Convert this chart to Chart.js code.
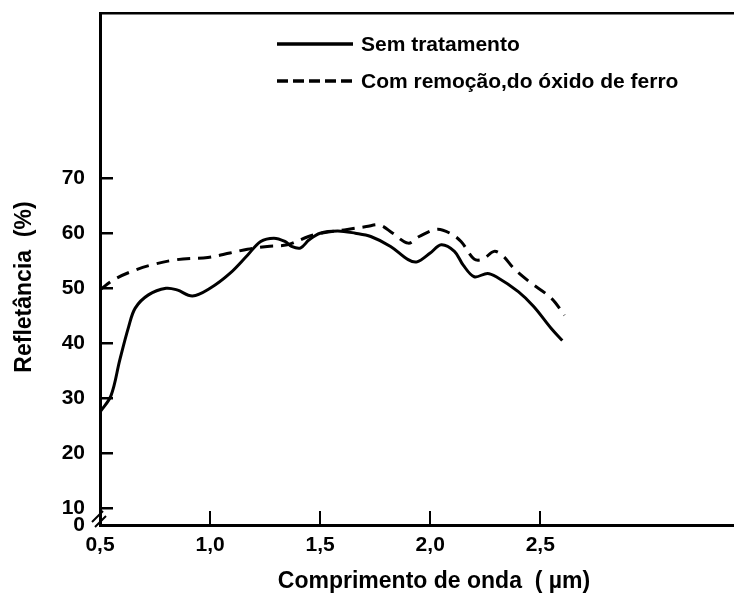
<!DOCTYPE html>
<html>
<head>
<meta charset="utf-8">
<script src="https://cdn.jsdelivr.net/npm/chart.js@4"></script>
<style>
  html, body { margin: 0; padding: 0; background: #fff; }
  canvas { display: block; }
</style>
</head>
<body>
<canvas id="chart" width="734" height="599"></canvas>
<script>
// Sem tratamento (solid)
const waveSem = [0.50, 0.55, 0.59, 0.63, 0.66, 0.72, 0.80, 0.85, 0.92, 1.00, 1.09, 1.17, 1.23, 1.29, 1.34, 1.37, 1.41, 1.45, 1.50, 1.58, 1.66, 1.73, 1.82, 1.90, 1.94, 2.00, 2.05, 2.11, 2.15, 2.20, 2.26, 2.30, 2.40, 2.47, 2.55, 2.60];
const reflSem = [27.5, 30.5, 37.0, 43.0, 46.4, 48.8, 50.0, 49.7, 48.6, 50.0, 52.7, 56.0, 58.5, 59.1, 58.5, 57.6, 57.3, 58.8, 60.0, 60.4, 60.0, 59.4, 57.6, 55.2, 54.8, 56.4, 57.9, 56.7, 54.2, 52.1, 52.7, 52.1, 49.4, 46.7, 42.7, 40.5];

// Com remoção do óxido de ferro (dashed)
const waveCom = [0.50, 0.56, 0.64, 0.73, 0.85, 0.99, 1.09, 1.17, 1.26, 1.35, 1.47, 1.61, 1.71, 1.77, 1.83, 1.90, 1.95, 2.03, 2.09, 2.14, 2.20, 2.24, 2.29, 2.33, 2.38, 2.45, 2.55, 2.61];
const reflCom = [49.7, 51.5, 53.0, 54.2, 55.2, 55.6, 56.4, 57.1, 57.6, 57.9, 59.7, 60.6, 61.2, 61.5, 60.0, 58.2, 59.4, 60.7, 60.0, 58.5, 55.3, 55.3, 56.7, 55.9, 53.6, 51.2, 48.2, 45.1];

const seriesLabels = ['Sem tratamento', 'Com remoção,do óxido de ferro'];
const xTicks = [0.5, 1.0, 1.5, 2.0, 2.5];
const yTicks = [10, 20, 30, 40, 50, 60, 70];
const yBreak = 7; // broken axis: bottom of the scale is labelled 0
const xTitle = 'Comprimento de onda  ( µm)';
const yTitle = 'Refletância  (%)';

const fontFamily = '"Liberation Sans", Arial, sans-serif';
const tickFont = { family: fontFamily, weight: 'bold', size: 21 };

const toPoints = (xs, ys) => xs.map((x, i) => ({ x: x, y: ys[i] }));

// titles, legend and the axis break drawn on top
const extras = {
  id: 'extras',
  afterDraw(chart) {
    const { ctx, chartArea: a } = chart;
    ctx.save();
    ctx.fillStyle = '#000';
    ctx.strokeStyle = '#000';
    ctx.textBaseline = 'middle';

    // axis titles
    ctx.font = 'bold 23px ' + fontFamily;
    ctx.textAlign = 'center';
    ctx.fillText(xTitle, a.left + 334, a.bottom + 57);

    ctx.save();
    ctx.translate(25, a.bottom - 238);
    ctx.rotate(-Math.PI / 2);
    ctx.fillText(yTitle, 0, 0);
    ctx.restore();

    // legend
    ctx.font = 'bold 21px ' + fontFamily;
    ctx.textAlign = 'left';
    chart.data.datasets.forEach((ds, i) => {
      const y = a.top + 31 + i * 37;
      ctx.lineWidth = 3.5;
      ctx.setLineDash(i === 0 ? [] : [11, 5]);
      ctx.beginPath();
      ctx.moveTo(a.left + 177, y);
      ctx.lineTo(a.left + 253, y);
      ctx.stroke();
      ctx.setLineDash([]);
      ctx.fillText(ds.label, a.left + 261, y + 1);
    });

    // axis break marks
    ctx.lineWidth = 2;
    ctx.beginPath();
    ctx.moveTo(a.left - 8, a.bottom - 3);
    ctx.lineTo(a.left + 3, a.bottom - 14);
    ctx.moveTo(a.left - 5, a.bottom + 2);
    ctx.lineTo(a.left + 6, a.bottom - 9);
    ctx.stroke();
    ctx.restore();
  }
};

new Chart(document.getElementById('chart'), {
  type: 'line',
  data: {
    datasets: [
      {
        label: seriesLabels[0],
        data: toPoints(waveSem, reflSem),
        borderColor: '#000',
        borderWidth: 3,
        pointRadius: 0,
        tension: 0.35,
        fill: false
      },
      {
        label: seriesLabels[1],
        data: toPoints(waveCom, reflCom),
        borderColor: '#000',
        borderWidth: 3,
        borderDash: [13, 8],
        pointRadius: 0,
        tension: 0.35,
        fill: false
      }
    ]
  },
  options: {
    responsive: false,
    animation: false,
    layout: { padding: 0 },
    plugins: {
      legend: { display: false },
      tooltip: { enabled: false }
    },
    scales: {
      x: {
        type: 'linear',
        position: 'bottom',
        min: 0.5,
        max: 3.38,
        afterBuildTicks: (s) => { s.ticks = xTicks.map(v => ({ value: v })); },
        ticks: {
          callback: (v) => v.toFixed(1).replace('.', ','),
          font: tickFont,
          color: '#000',
          padding: 22,
          maxRotation: 0,
          autoSkip: false
        },
        grid: { drawOnChartArea: false, tickLength: -14, lineWidth: 2, color: '#000' },
        border: { width: 3, color: '#000' },
        afterFit: (s) => { s.height = 74; s.paddingLeft = 0; s.paddingRight = 0; }
      },
      xTop: {
        type: 'linear',
        position: 'top',
        min: 0.5,
        max: 3.38,
        ticks: { display: false },
        grid: { display: false },
        border: { width: 2.5, color: '#000' },
        afterFit: (s) => { s.height = 13; }
      },
      y: {
        min: yBreak,
        max: 100,
        afterBuildTicks: (s) => { s.ticks = [yBreak].concat(yTicks).map(v => ({ value: v })); },
        ticks: {
          callback: (v) => (v === yBreak ? '0' : v),
          font: tickFont,
          color: '#000',
          padding: 28
        },
        grid: {
          drawOnChartArea: false,
          tickLength: -13,
          lineWidth: 2.5,
          color: (c) => (c.tick && c.tick.value === yBreak ? 'rgba(0,0,0,0)' : '#000')
        },
        border: { width: 3, color: '#000' },
        afterFit: (s) => { s.width = 100; s.paddingTop = 0; s.paddingBottom = 0; }
      }
    }
  },
  plugins: [extras]
});
</script>
</body>
</html>
